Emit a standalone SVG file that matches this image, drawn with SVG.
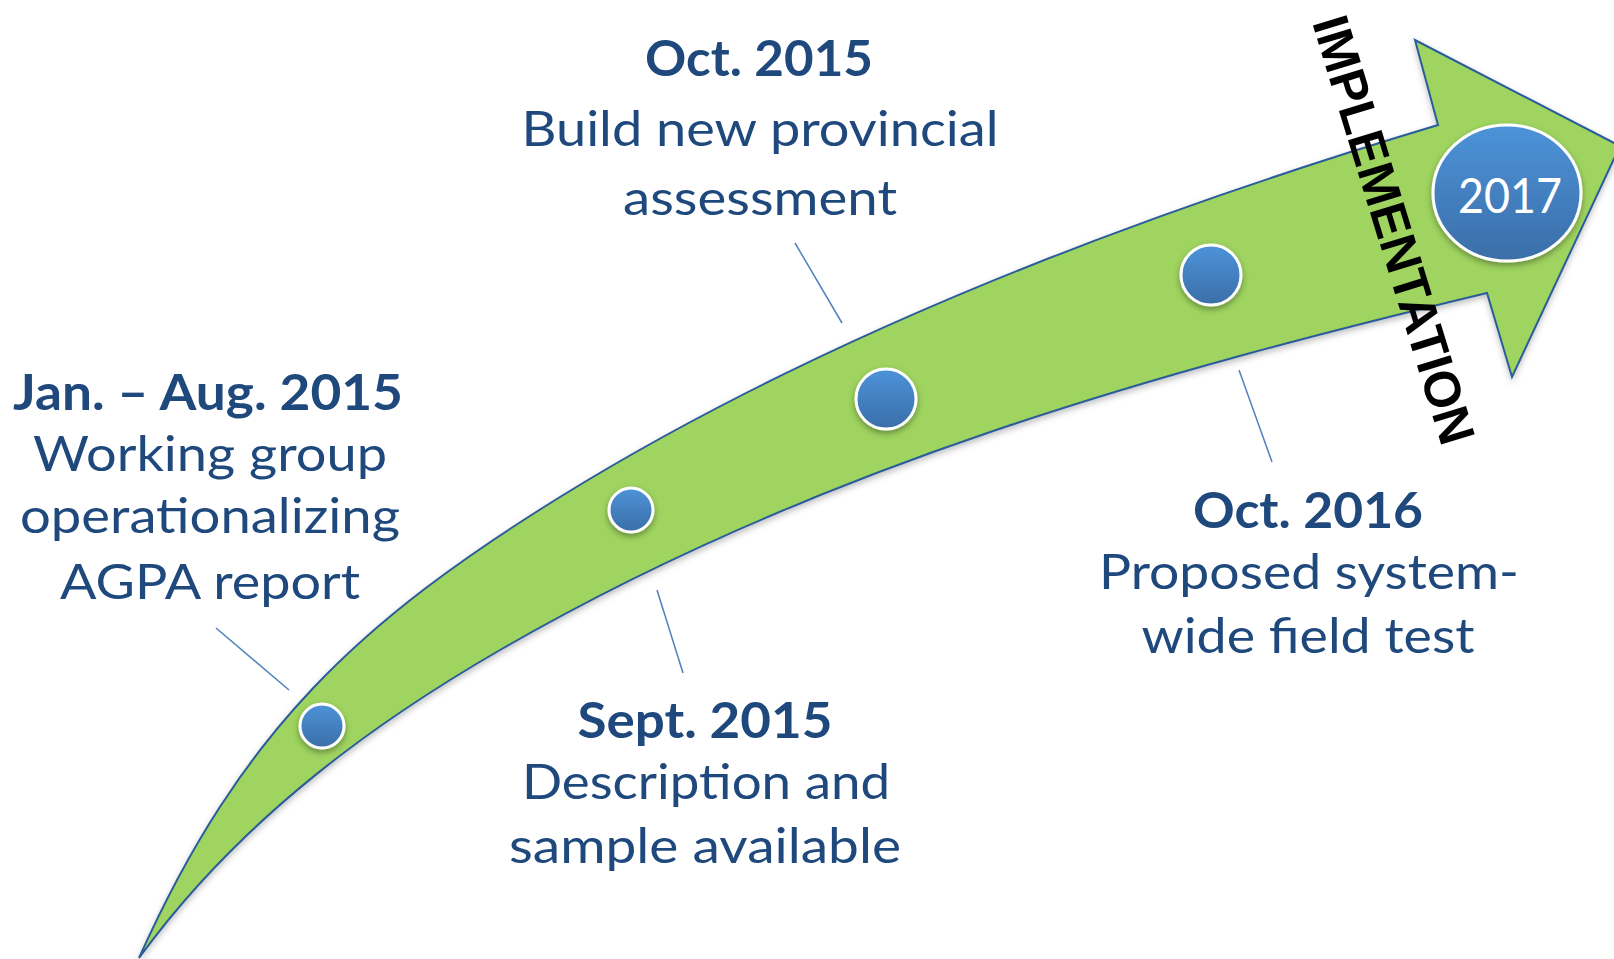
<svg xmlns="http://www.w3.org/2000/svg" width="1614" height="959" viewBox="0 0 1614 959">
<defs>
  <linearGradient id="dot" x1="0" y1="0" x2="0" y2="1">
    <stop offset="0" stop-color="#4d93d9"/>
    <stop offset="1" stop-color="#3a6ea8"/>
  </linearGradient>
  <filter id="sh" x="-20%" y="-20%" width="140%" height="150%">
    <feDropShadow dx="0" dy="3" stdDeviation="3" flood-color="#000" flood-opacity="0.35"/>
  </filter>
  <filter id="ash" x="-10%" y="-10%" width="120%" height="130%">
    <feDropShadow dx="0" dy="3" stdDeviation="3" flood-color="#000" flood-opacity="0.25"/>
  </filter>
  <style>
    .lbl{font-family:Lato,"Open Sans","Liberation Sans",sans-serif;font-size:49px;fill:#1f497d;text-anchor:middle}
    .b{font-weight:bold}
    .lead{stroke:#4f81bd;stroke-width:1.5;fill:none}
    .dot{fill:url(#dot);stroke:#fff;stroke-width:3;filter:url(#sh)}
  </style>
</defs>
<rect width="1614" height="959" fill="#fff"/>

<g id="arrow">
  <path d="M139,958 C241,730 360,621 560,497 C830,330 1158,209 1438,125 L1415,40 L1620,146 L1512,377 L1487,293 C1166,370 820,465 500,650 C387.6,715 245,812 139,958 Z" fill="#9fd460" stroke="#2b5c9a" stroke-width="2" stroke-linejoin="miter" filter="url(#ash)"/>
</g>

<g id="connectors">
  <line class="lead" x1="216" y1="628" x2="289" y2="690"/>
  <line class="lead" x1="657" y1="590" x2="683" y2="673"/>
  <line class="lead" x1="795" y1="243" x2="842" y2="323"/>
  <line class="lead" x1="1239" y1="370" x2="1272" y2="462"/>
</g>

<g id="node-jan-aug-2015">
  <circle class="dot" cx="322" cy="726" r="22"/>
  <text class="lbl b" x="208" y="410" textLength="390" lengthAdjust="spacingAndGlyphs">Jan. – Aug. 2015</text>
  <text class="lbl" x="210" y="471" textLength="354" lengthAdjust="spacingAndGlyphs">Working group</text>
  <text class="lbl" x="210" y="533" textLength="380" lengthAdjust="spacingAndGlyphs">operationalizing</text>
  <text class="lbl" x="210" y="599" textLength="300" lengthAdjust="spacingAndGlyphs">AGPA report</text>
</g>

<g id="node-sept-2015">
  <circle class="dot" cx="631" cy="510" r="22"/>
  <text class="lbl b" x="705" y="738" textLength="255" lengthAdjust="spacingAndGlyphs">Sept. 2015</text>
  <text class="lbl" x="706" y="799" textLength="368" lengthAdjust="spacingAndGlyphs">Description and</text>
  <text class="lbl" x="705" y="863" textLength="392" lengthAdjust="spacingAndGlyphs">sample available</text>
</g>

<g id="node-oct-2015">
  <circle class="dot" cx="886" cy="399" r="30"/>
  <text class="lbl b" x="759" y="76" textLength="228" lengthAdjust="spacingAndGlyphs">Oct. 2015</text>
  <text class="lbl" x="760" y="146" textLength="477" lengthAdjust="spacingAndGlyphs">Build new provincial</text>
  <text class="lbl" x="760" y="215" textLength="274" lengthAdjust="spacingAndGlyphs">assessment</text>
</g>

<g id="node-oct-2016">
  <circle class="dot" cx="1211" cy="275" r="30"/>
  <text class="lbl b" x="1308" y="528" textLength="230" lengthAdjust="spacingAndGlyphs">Oct. 2016</text>
  <text class="lbl" x="1309" y="589" textLength="420" lengthAdjust="spacingAndGlyphs">Proposed system-</text>
  <text class="lbl" x="1308" y="653" textLength="333" lengthAdjust="spacingAndGlyphs">wide field test</text>
</g>

<g id="node-2017">
  <ellipse class="dot" cx="1507" cy="193" rx="74" ry="68"/>
  <text class="lbl" x="1510" y="213" fill="#fff" style="fill:#fff" textLength="104" lengthAdjust="spacingAndGlyphs">2017</text>
</g>

<g id="label-implementation">
  <text transform="translate(1377,235) rotate(73)" x="0" y="0" font-family="'Liberation Sans',Arial,sans-serif" font-weight="bold" font-size="51" fill="#000" text-anchor="middle" textLength="445" lengthAdjust="spacingAndGlyphs">IMPLEMENTATION</text>
</g>
</svg>
